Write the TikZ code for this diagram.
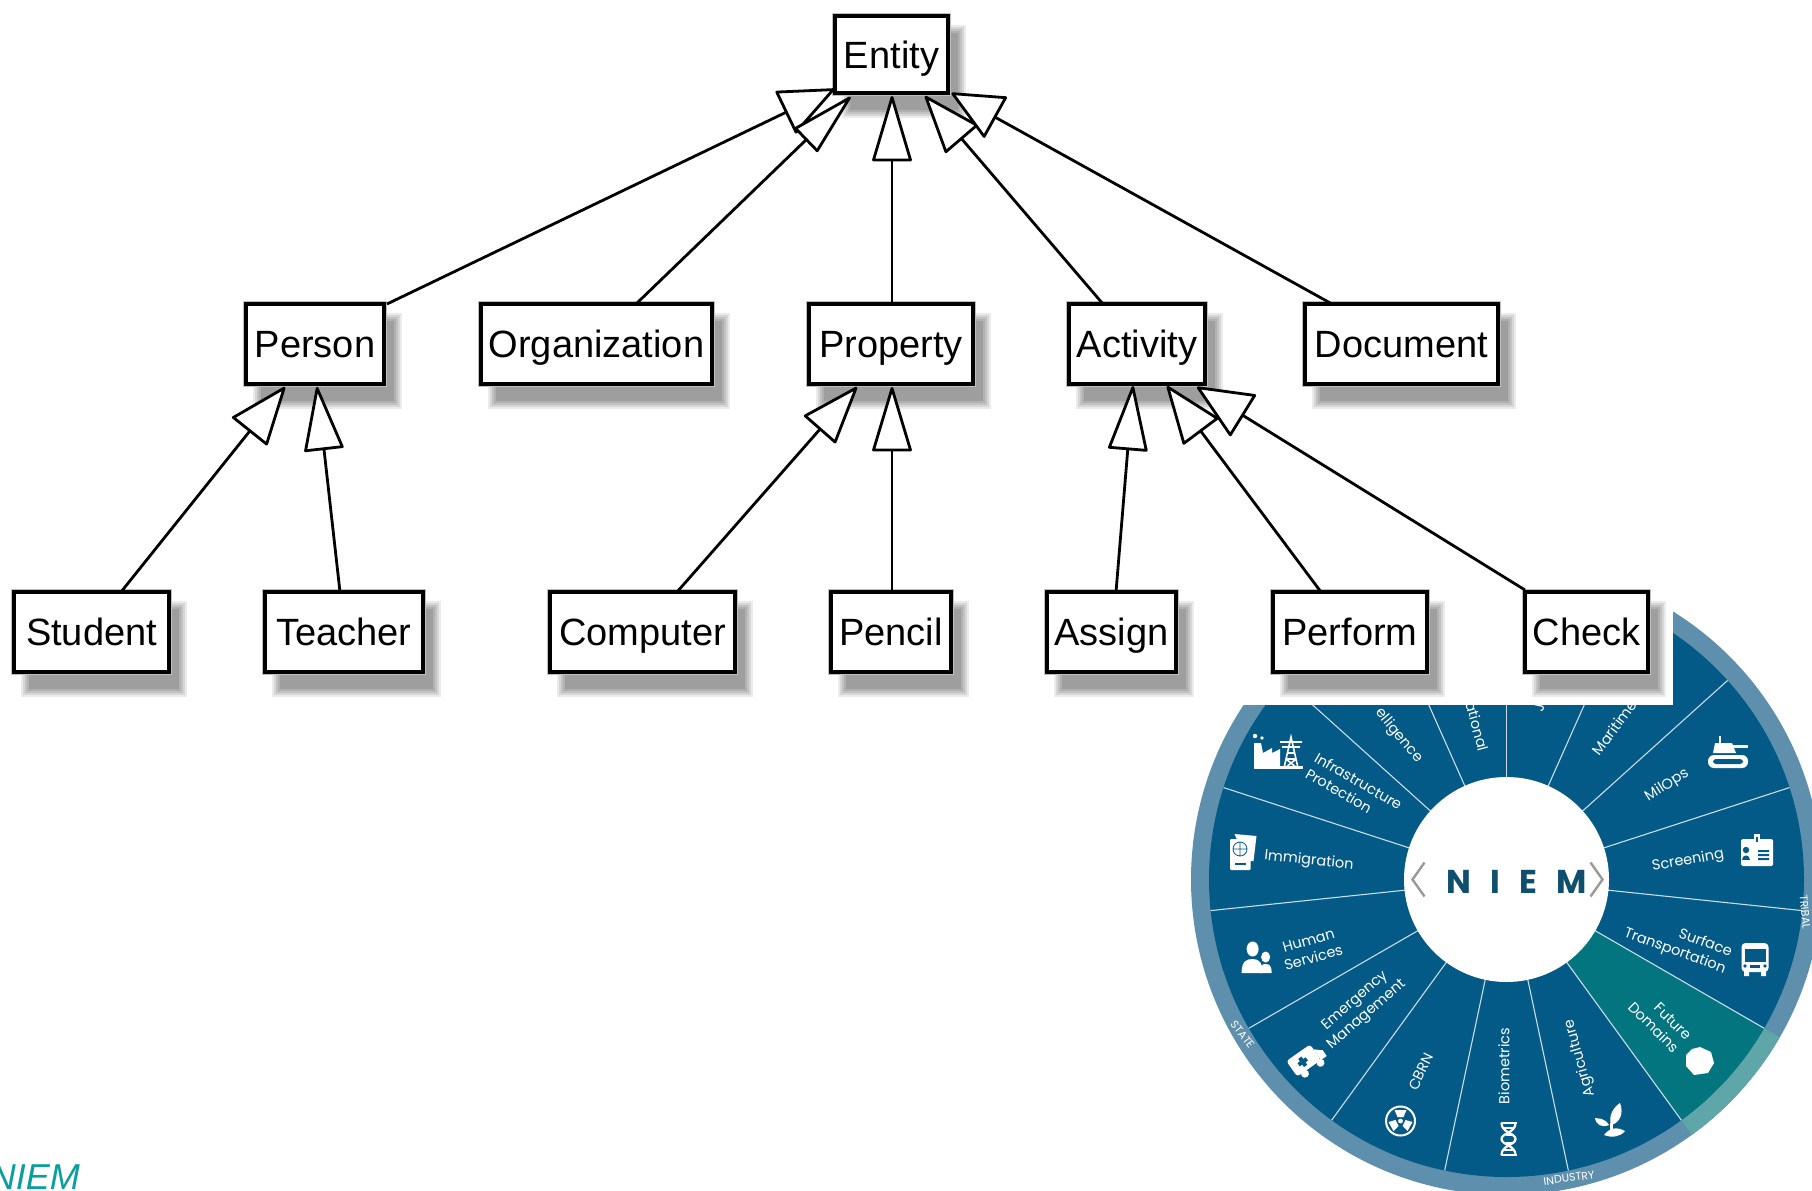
\documentclass[tikz,border=0pt]{standalone}
\usepackage{fontspec}
\setmainfont{Liberation Sans}
\newfontfamily\wheelfont{Poppins}
\newfontfamily\hubfont[LetterSpace=58]{Poppins}
\usetikzlibrary{arrows.meta,calc}
\definecolor{wheelblue}{HTML}{045A87}
\definecolor{ringblue}{HTML}{5E90AD}
\definecolor{wheelteal}{HTML}{02757F}
\definecolor{ringteal}{HTML}{5FA6A9}
\definecolor{spoke}{HTML}{C9DCE8}
\definecolor{hubink}{HTML}{0D4F6C}
\definecolor{niemteal}{HTML}{0A9E9E}
\tikzset{
  umlnode/.style={draw=black,fill=white,line width=3.4pt,inner sep=0pt,outer sep=0pt,
    font=\fontsize{38}{40}\selectfont,text height=32pt,text depth=5pt,text=black},
  gen/.style 2 args={draw=black,line width=2.8pt,
    -{Triangle[open,round,length=#1pt,width=#2pt,fill=white]}},
  wl/.style={text=white,font=\wheelfont\fontsize{14.5}{18}\selectfont,align=center,inner sep=0pt},
  rl/.style={text=white,font=\wheelfont\fontsize{11}{12}\selectfont,inner sep=0pt},
  spokeline/.style={draw=spoke,line width=1.1pt},
  ic/.style={fill=white,draw=none},
  icd/.style={fill=wheelblue,draw=none},
}
\newcommand\umlbox[6]{%
  \fill[black!8] (#2+7,#3+9) rectangle (#4+18,#5+25);
  \fill[black!16] (#2+9,#3+11) rectangle (#4+16,#5+23);
  \fill[black!24] (#2+11,#3+13) rectangle (#4+14,#5+21);
  \fill[black!31] (#2+13,#3+15) rectangle (#4+12,#5+19);
  \fill[black!38] (#2+15,#3+17) rectangle (#4+10,#5+17);
  \fill[black!25] (#2-3,#3-3) rectangle (#4+3,#5+3);
  \node[umlnode,minimum width={#4-#2},minimum height={#5-#3}] (#1) at ({(#2+#4)/2},{(#3+#5)/2}) {#6};
}
\begin{document}
\begin{tikzpicture}[x=1pt,y=-1pt]
\useasboundingbox (0,0) rectangle (1812,1191);
\clip (0,0) rectangle (1812,1191);
\fill[white] (0,0) rectangle (1812,1191);
% wheel
\begin{scope}[shift={(1506.5,879.5)}]
  \fill[ringblue] (0,0) circle[radius=315.5];
  \fill[wheelblue] (0,0) circle[radius=297.5];
  \fill[ringteal] plot[domain=30:54,samples=24] (\x:315.5) -- plot[domain=54:30,samples=24] (\x:297.5) -- cycle;
  \fill[wheelteal] plot[domain=30:54,samples=24] (\x:297.5) -- plot[domain=54:30,samples=24] (\x:100) -- cycle;
  \foreach \a in {-90,-66,-42,-18,6,30,54,78,102,126,150,174,198,222,246}
    \draw[spokeline] (\a:102) -- (\a:297.5);
  \fill[white] (0,0) circle[radius=102.5];
  \draw[black!40,line width=2.4pt] (-82,-17) -- (-94,0) -- (-82,17);
  \draw[black!40,line width=2.4pt] (84,-17) -- (96,0) -- (84,17);
\end{scope}
\node[text=hubink,font=\hubfont\bfseries\fontsize{33}{33}\selectfont,inner sep=0pt] (hub) at (1516.5,882) {NIEM};
% wheel labels
\node[wl,rotate=-30,align=left] (l1) at (1354,789) {Infrastructure\\Protection};
\node[wl,rotate=-6] (l2) at (1309,861) {Immigration};
\node[wl,rotate=16] (l3) at (1311,949) {Human\\Services};
\node[wl,rotate=41] (l4) at (1361,1008) {Emergency\\Management};
\node[wl,rotate=64] (l5) at (1421,1072) {CBRN};
\node[wl,rotate=90] (l6) at (1504,1066) {Biometrics};
\node[wl,rotate=106] (l7) at (1580,1058) {Agriculture};
\node[wl,rotate=-45,align=right] (l8) at (1660,1021) {Future\\Domains};
\node[wl,rotate=-20,align=right] (l9) at (1678,943) {Surface\\Transportation};
\node[wl,rotate=10] (l10) at (1688,861) {Screening};
\node[wl,rotate=32] (l11) at (1667,785.5) {MilOps};
\node[wl,rotate=53,anchor=west] (l12) at (1595,753) {Maritime};
\node[wl,rotate=-75,anchor=east] (l13) at (1484,751) {ational};
\node[wl,rotate=-50,anchor=east] (l14) at (1420,761) {elligence};
\node[wl,rotate=78,anchor=west] (l15) at (1539,712) {J};
\node[rl,rotate=-52] (r1) at (1242.5,1034.5) {STATE};
\node[rl,rotate=8] (r2) at (1569,1178) {INDUSTRY};
\node[rl,rotate=-85] (r3) at (1805,912) {TRIBAL};
% icons
\begin{scope}[shift={(1728,751)}] % tank
  \fill[ic,rounded corners=6pt] (-20,4) rectangle (20,17);
  \fill[icd,rounded corners=3pt] (-15,8) rectangle (15,13);
  \fill[ic] (-13,-8) -- (4,-8) -- (8,2) -- (-15,2) -- cycle;
  \fill[ic] (4,-6) rectangle (20,-3);
  \fill[ic] (-9,-15) rectangle (-7,-8);
\end{scope}
\begin{scope}[shift={(1757,851)}] % id card
  \fill[ic,rounded corners=1.5pt] (-16,-12) rectangle (16,15);
  \fill[ic] (-3,-17) rectangle (3,-9);
  \fill[icd] (-1,-14) rectangle (1,-9);
  \fill[icd] (-11,-1) circle[radius=3.2];
  \fill[icd] (-15,9) .. controls (-15,3) and (-7,3) .. (-7,9) -- cycle;
  \fill[icd] (1,-1) rectangle (12,1) (1,3) rectangle (12,5) (1,7) rectangle (12,9);
\end{scope}
\begin{scope}[shift={(1755,959)}] % bus
  \fill[ic,rounded corners=4pt] (-13.5,-16) rectangle (13.5,13);
  \fill[ic] (-11,12) rectangle (-6,17) (6,12) rectangle (11,17);
  \fill[icd] (-10.5,-10) rectangle (10.5,3);
  \fill[icd] (-10,7) circle[radius=1.8] (10,7) circle[radius=1.8];
  \fill[icd] (-5,6) rectangle (5,9);
\end{scope}
\fill[ic] (1700,1047) -- (1711,1052) -- (1714,1063) -- (1708,1073) -- (1694,1075) -- (1686,1066) -- (1686,1055) -- (1692,1049) -- cycle;
\begin{scope}[shift={(1610,1121)}] % plant
  \fill[ic] (1,4) .. controls (-2,-6) and (4,-14) .. (10,-18) .. controls (14,-8) and (10,2) .. (1,4) -- cycle;
  \fill[ic] (-1,4) .. controls (-6,-4) and (-12,-2) .. (-15,-3) .. controls (-14,4) and (-8,7) .. (-1,4) -- cycle;
  \fill[ic] (0,2) rectangle (2.5,12);
  \fill[ic] (-6,14) .. controls (0,6) and (8,6) .. (15,10) .. controls (10,16) and (2,17) .. (-6,14) -- cycle;
\end{scope}
\begin{scope}[shift={(1508.5,1139)}] % dna
  \draw[white,line width=2.2pt] (-7,-16) .. controls (-7,-6) and (7,-6) .. (7,0) .. controls (7,6) and (-7,6) .. (-7,16);
  \draw[white,line width=2.2pt] (7,-16) .. controls (7,-6) and (-7,-6) .. (-7,0) .. controls (-7,6) and (7,6) .. (7,16);
  \draw[white,line width=1.6pt] (-8,-16) -- (8,-16) (-8,16) -- (8,16) (-5,-11) -- (5,-11) (-3,-4) -- (3,-4) (-3,4) -- (3,4) (-5,11) -- (5,11);
\end{scope}
\begin{scope}[shift={(1400.5,1121)}] % radiation
  \draw[white,line width=2pt] (0,0) circle[radius=14.5];
  \fill[ic] (0,0) circle[radius=2.4];
  \fill[ic] (-3,-4) -- (-6,-11) -- (6,-11) -- (3,-4) -- cycle;
  \fill[ic] (5,-1) -- (12,1) -- (7,10) -- (2,5) -- cycle;
  \fill[ic] (-5,-1) -- (-12,1) -- (-7,10) -- (-2,5) -- cycle;
\end{scope}
\begin{scope}[shift={(1306,1059.5)},rotate=35] % ambulance
  \fill[ic,rounded corners=3pt] (-17,-10) rectangle (12,9);
  \fill[ic] (12,-4) -- (19,2) -- (19,9) -- (12,9) -- cycle;
  \fill[icd] (-6,-5) rectangle (-2,5) (-9,-2) rectangle (1,2);
  \fill[ic] (-9,11) circle[radius=4] (10,11) circle[radius=4];
\end{scope}
\begin{scope}[shift={(1256.6,958)}] % people
  \fill[ic] (-4,-9) ellipse[x radius=6,y radius=7.5];
  \fill[ic] (-15,15) .. controls (-15,3) and (-10,1) .. (-4,1) .. controls (2,1) and (6,4) .. (6,15) -- cycle;
  \fill[ic] (9,-1) ellipse[x radius=4.5,y radius=5.5];
  \fill[ic] (3,15) .. controls (3,7) and (6,6) .. (9,6) .. controls (13,6) and (15,8) .. (15,15) -- cycle;
\end{scope}
\begin{scope}[shift={(1242.5,851)}] % passport
  \fill[ic] (-8,-17) -- (14,-15) -- (11,10) -- (4,10) -- cycle;
  \fill[ic,rounded corners=1pt] (-12.5,-12) rectangle (8,19);
  \draw[wheelblue,line width=0.8pt] (-2.5,-2) circle[radius=7] (-9.5,-2) -- (4.5,-2) (-2.5,-9) -- (-2.5,5);
  \fill[icd] (-8,12) rectangle (3,13.5);
\end{scope}
\begin{scope}[shift={(1277,751)}] % factory and pylon
  \fill[ic] (-23,17) -- (-23,-8) -- (-16,-8) -- (-14,2) -- (-5,-3) -- (-5,2) -- (3,-2) -- (3,17) -- cycle;
  \draw[white,line width=1.6pt] (7,17) -- (14,-14) -- (21,17) (9,8) -- (19,8) (10,2) -- (18,2) (3,-9) -- (25,-9) (5,-4) -- (23,-4) (8,17) -- (19,8) (20,17) -- (9,8);
  \fill[ic] (-22,-15) circle[radius=2.2] (-15,-13) circle[radius=1.8];
  \fill[ic] (-23,15) rectangle (26,18);
\end{scope}
% mask
\fill[white] (0,0) rectangle (1673,705);
% NIEM caption
\node[text=niemteal,font=\fontsize{36}{36}\selectfont\itshape,anchor=base east,inner sep=0pt] (cap) at (80,1189) {NIEM};
% UML boxes
\umlbox{entity}{835}{16}{948}{93}{Entity}
\umlbox{person}{246}{304}{384}{384}{Person}
\umlbox{org}{481}{304}{712}{384}{Organization}
\umlbox{property}{809}{304}{973}{384}{Property}
\umlbox{activity}{1069}{304}{1205}{384}{Activity}
\umlbox{document}{1305}{304}{1498}{384}{Document}
\umlbox{student}{14}{592}{169}{672}{Student}
\umlbox{teacher}{265}{592}{423}{672}{Teacher}
\umlbox{computer}{550}{592}{735}{672}{Computer}
\umlbox{pencil}{831}{592}{951}{672}{Pencil}
\umlbox{assign}{1047}{592}{1176}{672}{Assign}
\umlbox{perform}{1273}{592}{1427}{672}{Perform}
\umlbox{check}{1525}{592}{1648}{672}{Check}
% connectors
\draw[gen={57}{48}] ($(person.north)+(72,0)$) -- ($(entity.south)+(-57,-4)$);
\draw[gen={67}{34}] ($(org.north)+(39.5,0)$) -- ($(entity.south)+(-41,4)$);
\draw[gen={69}{40}] ($(property.north)+(1,0)$) -- ($(entity.south)+(0.5,3)$);
\draw[gen={60}{44}] ($(activity.north)+(-34,0)$) -- ($(entity.south)+(33.5,3)$);
\draw[gen={53}{48}] ($(document.north)+(-69.5,0)$) -- ($(entity.south)+(60,0)$);
\draw[gen={60}{46}] ($(student.north)+(29.5,0)$) -- ($(person.south)+(-30,3)$);
\draw[gen={67}{40}] ($(teacher.north)+(-4,0)$) -- ($(person.south)+(2,3)$);
\draw[gen={60}{43}] ($(computer.north)+(34.5,0)$) -- ($(property.south)+(-34,3)$);
\draw[gen={68}{40}] ($(pencil.north)+(1,0)$) -- ($(property.south)+(1,3)$);
\draw[gen={68}{40}] ($(assign.north)+(4.5,0)$) -- ($(activity.south)+(-4,2)$);
\draw[gen={60}{45}] ($(perform.north)+(-29,0)$) -- ($(activity.south)+(30,2)$);
\draw[gen={57}{50}] ($(check.north)+(-61.5,-2)$) -- ($(activity.south)+(60,3)$);
\end{tikzpicture}
\end{document}
